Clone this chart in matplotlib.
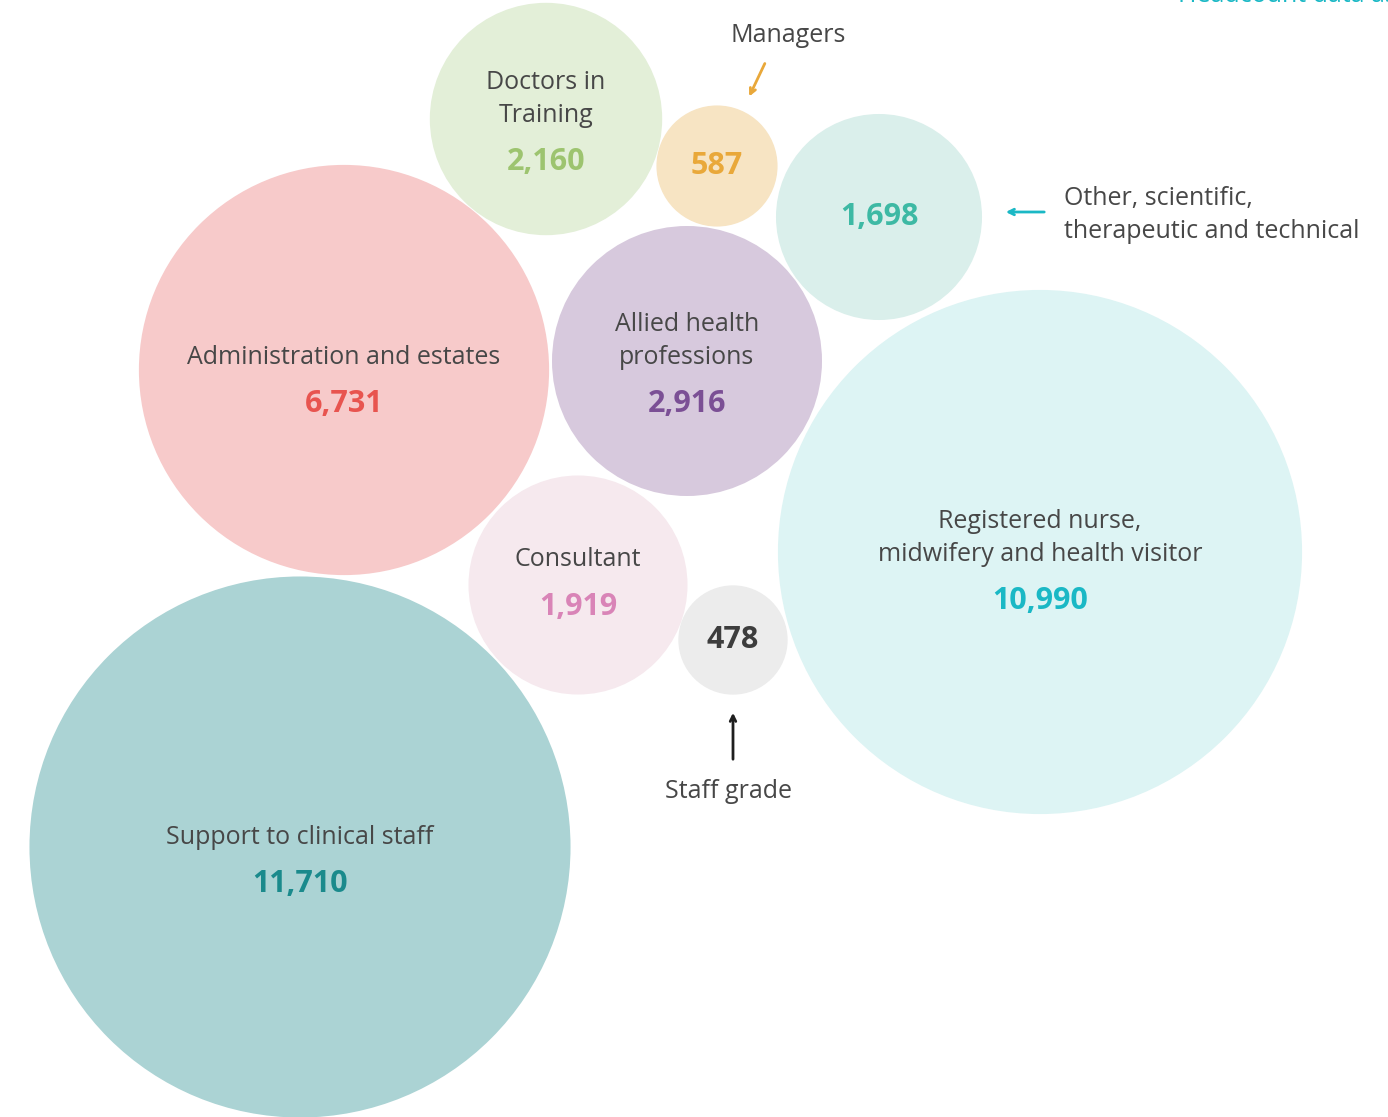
import numpy as np
import matplotlib.pyplot as plt
from matplotlib.patches import Circle

plt.rcParams['font.family'] = ['Open Sans', 'DejaVu Sans']

# staff groups (headcount)
labels = [
    'Doctors in\nTraining',
    '',
    '',
    'Administration and estates',
    'Allied health\nprofessions',
    'Registered nurse,\nmidwifery and health visitor',
    'Consultant',
    '',
    'Support to clinical staff',
]
values = [2160, 587, 1698, 6731, 2916, 10990, 1919, 478, 11710]
fill_colors = ['#e3efd8', '#f7e4c3', '#daefeb', '#f7caca', '#d7c9dd',
               '#ddf4f4', '#f6e9ee', '#ececec', '#abd3d4']
value_colors = ['#9dc46f', '#e9a83a', '#3db9a4', '#e8544f', '#7b4f95',
                '#1ab8c5', '#d984b7', '#3d3d3d', '#1a8a8c']

# bubble layout (pixel coords) and y of the label block centre
centers = [(546, 119), (717, 166), (879, 217), (344, 370), (687, 361),
           (1040, 552), (578, 585), (733, 640), (300, 847)]
label_y = [99, 166, 217, 357, 341, 538, 560, 640, 837]
scale = 2.5
line_gap = 32

label_col = '#474747'

fig = plt.figure(figsize=(13.88, 11.17), dpi=100)
ax = fig.add_axes([0, 0, 1, 1])
ax.set_xlim(0, 1388)
ax.set_ylim(1117, 0)
ax.set_aspect('equal')
ax.axis('off')

for lab, val, fc, vc, (cx, cy), ly in zip(labels, values, fill_colors,
                                          value_colors, centers, label_y):
    r = scale * np.sqrt(val)
    ax.add_patch(Circle((cx, cy), r, facecolor=fc, edgecolor='none'))
    if lab:
        nlines = lab.count('\n') + 1
        ax.text(cx, ly, lab, ha='center', va='center', fontsize=18,
                color=label_col, linespacing=1.38)
        vy = ly + line_gap * (nlines - 1) / 2 + 47
    else:
        vy = cy
    ax.text(cx, vy, f'{val:,}', ha='center', va='center', fontsize=22,
            fontweight='bold', color=vc)

# callouts for small bubbles
ax.text(788, 35, 'Managers', ha='center', va='center', fontsize=18, color=label_col)
ax.annotate('', xy=(748, 99), xytext=(766, 61),
            arrowprops=dict(arrowstyle='->', color='#e9a83a', lw=2))
ax.text(1064, 215, 'Other, scientific,\ntherapeutic and technical', ha='left',
        va='center', fontsize=18, color=label_col, linespacing=1.38)
ax.annotate('', xy=(1003, 212), xytext=(1047, 212),
            arrowprops=dict(arrowstyle='->', color='#1ab8c5', lw=2))
ax.text(729, 792, 'Staff grade', ha='center', va='center', fontsize=18, color=label_col)
ax.annotate('', xy=(733, 710), xytext=(733, 762),
            arrowprops=dict(arrowstyle='->', color='#1f1f1f', lw=2))

# header text cut by the top edge, as in the source
ax.text(1178, -4, 'Headcount data as at', ha='left', va='center', fontsize=18,
        color='#1ab8c5')

fig.savefig('out.png', dpi=100)
